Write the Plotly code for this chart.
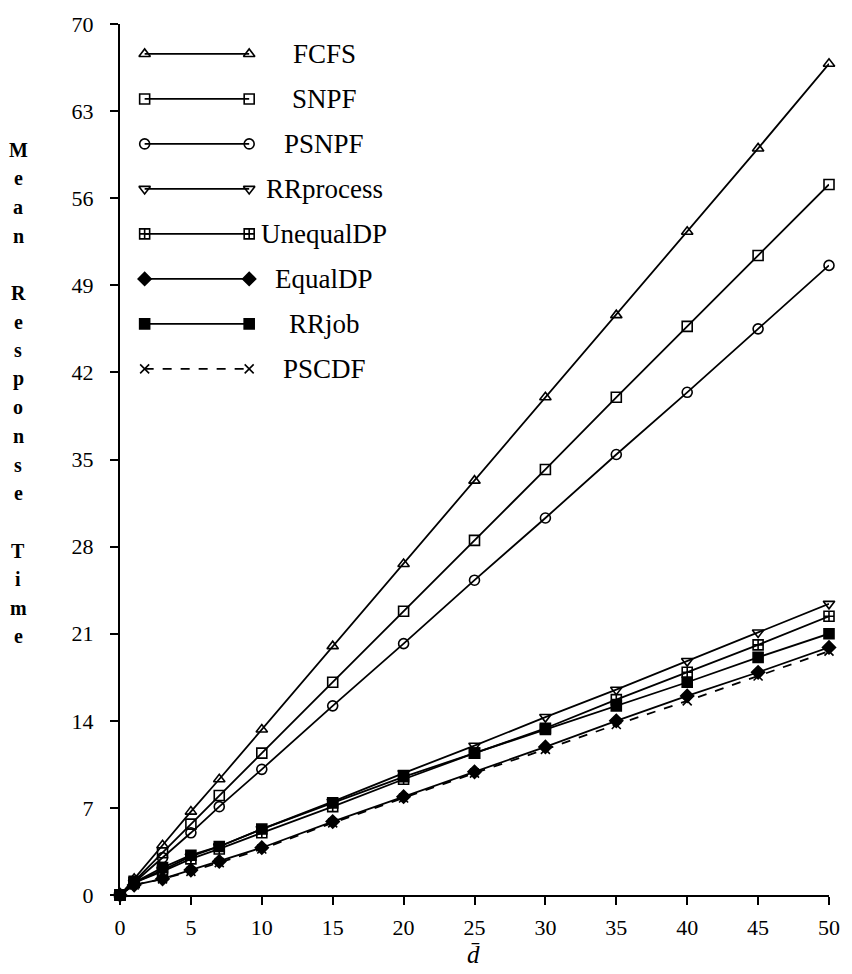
import plotly.graph_objects as go

# Mean response time versus mean demand d̄ for eight scheduling policies
d_bar = [0, 1, 3, 5, 7, 10, 15, 20, 25, 30, 35, 40, 45, 50]

fcfs = [0, 1.3, 4.0, 6.7, 9.3, 13.3, 20.0, 26.6, 33.3, 40.0, 46.6, 53.3, 60.0, 66.8]
snpf = [0, 1.1, 3.4, 5.7, 8.0, 11.4, 17.1, 22.8, 28.5, 34.2, 40.0, 45.7, 51.4, 57.1]
psnpf = [0, 1.0, 3.0, 5.0, 7.1, 10.1, 15.2, 20.2, 25.3, 30.3, 35.4, 40.4, 45.5, 50.6]
rr_process = [0, 1.0, 2.0, 3.1, 3.9, 5.3, 7.5, 9.8, 12.0, 14.3, 16.5, 18.8, 21.1, 23.4]
unequal_dp = [0, 1.0, 1.9, 2.9, 3.7, 5.0, 7.1, 9.3, 11.4, 13.4, 15.7, 17.9, 20.1, 22.4]
equal_dp = [0, 0.8, 1.3, 2.0, 2.7, 3.8, 5.9, 7.9, 9.9, 11.9, 14.0, 16.0, 17.9, 19.9]
rr_job = [0, 1.0, 2.2, 3.2, 3.9, 5.3, 7.4, 9.5, 11.4, 13.3, 15.2, 17.1, 19.1, 21.0]
pscdf = [0, 0.8, 1.3, 1.9, 2.6, 3.7, 5.8, 7.8, 9.8, 11.7, 13.7, 15.6, 17.6, 19.6]

series_names = ["FCFS", "SNPF", "PSNPF", "RRprocess", "UnequalDP", "EqualDP", "RRjob", "PSCDF"]
series_values = [fcfs, snpf, psnpf, rr_process, unequal_dp, equal_dp, rr_job, pscdf]

x_ticks = list(range(0, 51, 5))
y_ticks = list(range(0, 71, 7))
y_title = "Mean Response Time"

# marker symbol, marker size, line dash for each policy
styles = [
    ("triangle-up-open", 10, "solid"),
    ("square-open", 10, "solid"),
    ("circle-open", 10, "solid"),
    ("triangle-down-open", 10, "solid"),
    ("square-cross-open", 10, "solid"),
    ("diamond", 10, "solid"),
    ("square", 10, "solid"),
    ("x-thin-open", 9, "dash"),
]

W, H = 852, 974
M_L, M_R, M_T, M_B = 120, 13, 22, 79
PLOT_W, PLOT_H = W - M_L - M_R, H - M_T - M_B
SERIF = "Liberation Serif, Times New Roman, serif"


def px_to_paper(px, py):
    """Page pixel position -> paper coordinates of the plotting area."""
    return (px - M_L) / PLOT_W, (H - M_B - py) / PLOT_H


fig = go.Figure()

for name, vals, (sym, size, dash) in zip(series_names, series_values, styles):
    fig.add_trace(go.Scatter(
        x=d_bar, y=vals, name=name, mode="lines+markers",
        line=dict(color="black", width=1.8, dash=dash),
        marker=dict(symbol=sym, size=size, color="black",
                    line=dict(color="black", width=1.6)),
        cliponaxis=False, showlegend=False,
    ))

# Hand-built key: a sample line with a marker at each end, label on the right.
# Drawn on an overlay axis measured in page pixels.
key_x0, key_x1, key_label_x = 145, 251, 327
key_y0, key_step = 52, 45.1
for i, (name, (sym, size, dash)) in enumerate(zip(series_names, styles)):
    ky = key_y0 + i * key_step
    fig.add_trace(go.Scatter(
        x=[key_x0, key_x1], y=[ky, ky], mode="lines+markers",
        xaxis="x2", yaxis="y2",
        line=dict(color="black", width=1.8, dash=dash),
        marker=dict(symbol=sym, size=size, color="black",
                    line=dict(color="black", width=1.6)),
        cliponaxis=False, showlegend=False, hoverinfo="skip",
    ))
    fig.add_annotation(
        x=key_label_x, y=ky, xref="x2", yref="y2", text=name,
        showarrow=False, xanchor="center", yanchor="middle",
        font=dict(family=SERIF, size=27, color="black"),
    )

# Vertical, letter-by-letter axis title
title_top, title_step, title_x = 148, 28.7, 17
for i, ch in enumerate(y_title):
    if ch == " ":
        continue
    px, py = px_to_paper(title_x, title_top + i * title_step)
    fig.add_annotation(
        x=px, y=py, xref="paper", yref="paper", text=ch, showarrow=False,
        xanchor="center", yanchor="middle",
        font=dict(family=SERIF, size=20, color="black", weight="bold"),
    )

dx, dy = px_to_paper(478, 955)
fig.add_annotation(
    x=dx, y=dy, xref="paper", yref="paper", text="<i>d\u0304</i>",
    showarrow=False, xanchor="center", yanchor="middle",
    font=dict(family=SERIF, size=25, color="black"),
)

axis_common = dict(
    showline=True, linecolor="black", linewidth=2,
    ticks="outside", ticklen=8, tickwidth=1.5, tickcolor="black",
    showgrid=False, zeroline=False,
    tickfont=dict(family=SERIF, size=22, color="black"),
)

fig.update_layout(
    width=W, height=H,
    margin=dict(l=M_L, r=M_R, t=M_T, b=M_B),
    paper_bgcolor="white", plot_bgcolor="white",
    xaxis=dict(range=[0, 50], tickvals=x_ticks, ticklabelstandoff=4, **axis_common),
    yaxis=dict(range=[0, 70], tickvals=y_ticks, ticklabelstandoff=12, **axis_common),
    xaxis2=dict(overlaying="x", range=[M_L, W - M_R], visible=False),
    yaxis2=dict(overlaying="y", range=[H - M_B, M_T], visible=False),
    showlegend=False,
)

fig.write_html("out.html")
